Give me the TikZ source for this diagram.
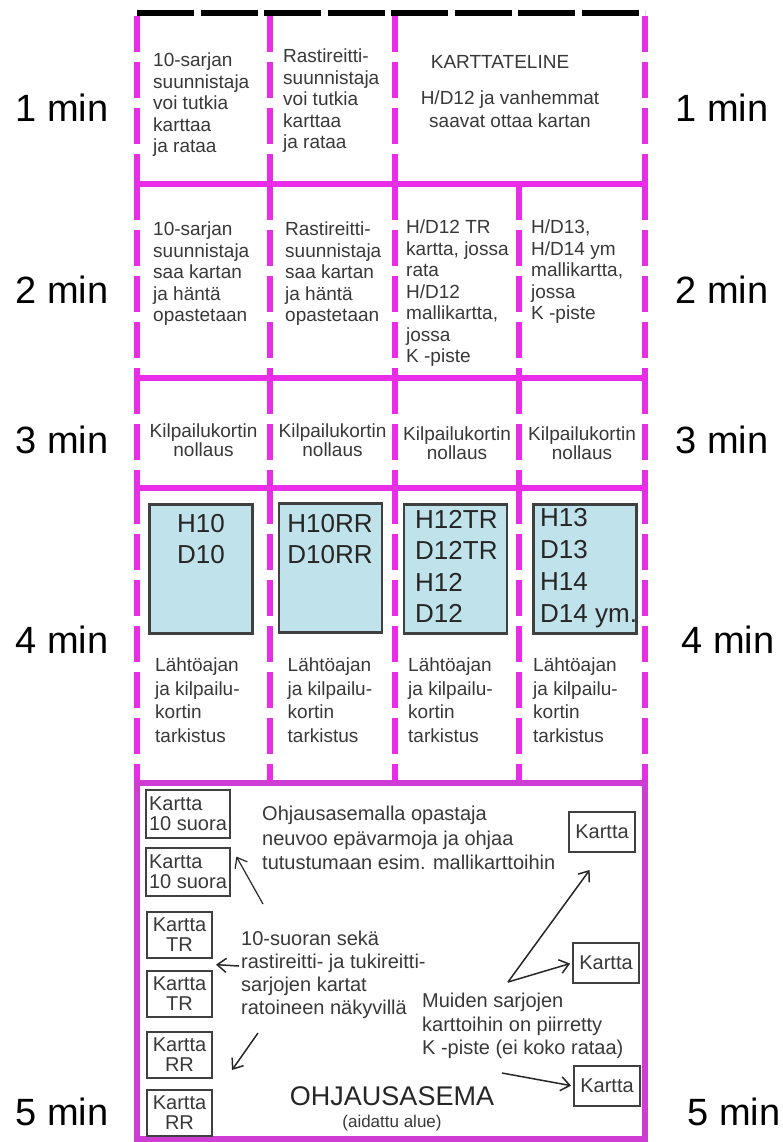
\documentclass[tikz,border=0pt]{standalone}
\usepackage{fontspec}
\setmainfont{Liberation Sans}
\usetikzlibrary{arrows.meta,calc}
\definecolor{pinkline}{RGB}{232,44,232}
\definecolor{frameline}{RGB}{206,60,212}
\definecolor{cardblue}{RGB}{192,226,234}

\begin{document}
\begin{tikzpicture}[
  x=1pt, y=-1pt,
  every node/.style={inner sep=0pt, text=black!78},
  cell/.style={anchor=north west, align=left, font=\fontsize{19}{21.5}\selectfont},
  checktext/.style={anchor=north west, align=left, font=\fontsize{19}{23.5}\selectfont},
  reset/.style={align=center, font=\fontsize{19}{19.5}\selectfont},
  minlabel/.style={font=\fontsize{38}{40}\selectfont, text=black},
  classbox/.style={rectangle, draw=black!75, line width=2.5pt, fill=cardblue, minimum width=103pt, minimum height=129pt},
  classtext/.style={anchor=north, align=center, font=\fontsize{26}{31.5}\selectfont, text=black!85},
  mapbox/.style={rectangle, draw=black!75, line width=2pt, align=center, font=\fontsize{20}{20}\selectfont, minimum width=65pt, minimum height=46pt},
  note/.style={anchor=north west, align=left, font=\fontsize{20}{23.5}\selectfont},
  sepline/.style={pinkline, line width=6pt},
  dashsep/.style={pinkline, line width=6pt, dash pattern=on 36pt off 10pt},
  pointer/.style={-{Straight Barb[length=9pt,width=14pt]}, line width=1.5pt, black!85},
]
\useasboundingbox (0,0) rectangle (783,1142);

% Grid: start line, rows and columns
\draw[black, line width=6pt, dash pattern=on 57pt off 6.5pt] (137,13) -- (645,13);
\foreach \xx in {137,270,395,645}
  \draw[dashsep] (\xx,16) -- (\xx,184);
\foreach \ya/\yb in {184/378, 378/488, 488/783}
  \foreach \xx in {137,270,395,519,645}
    \draw[dashsep] (\xx,\ya) -- (\xx,\yb);
\foreach \yy in {184,378,488}
  \draw[sepline] (134,\yy) -- (648,\yy);
\draw[frameline, line width=6pt] (137,783) -- (137,1139) -- (645,1139) -- (645,783) -- cycle;

% Time labels
\foreach \t/\yy/\xr in {1/108/722, 2/290/722, 3/440/722, 4/640/728, 5/1112/734} {
  \node[minlabel] (left\t) at (62,\yy) {\t\ min};
  \node[minlabel] (right\t) at (\xr,\yy) {\t\ min};
}

% Row 1: 1 min
\node[cell] (r1c1) at (153,53) {10-sarjan\\suunnistaja\\voi tutkia\\karttaa\\ja rataa};
\node[cell] (r1c2) at (283,49) {Rastireitti-\\suunnistaja\\voi tutkia\\karttaa\\ja rataa};
\node[reset] (stand) at (500,62) {KARTTATELINE};
\node[reset, font=\fontsize{19}{23.5}\selectfont] (standnote) at (510,109) {H/D12 ja vanhemmat\\saavat ottaa kartan};

% Row 2: 2 min
\node[cell] (r2c1) at (153,222) {10-sarjan\\suunnistaja\\saa kartan\\ja häntä\\opastetaan};
\node[cell] (r2c2) at (285,222) {Rastireitti-\\suunnistaja\\saa kartan\\ja häntä\\opastetaan};
\node[cell] (r2c3) at (406,220) {H/D12 TR\\kartta, jossa\\rata\\H/D12\\mallikartta,\\jossa\\K -piste};
\node[cell] (r2c4) at (531,220) {H/D13,\\H/D14 ym\\mallikartta,\\jossa\\K -piste};

% Row 3: 3 min
\node[reset] (r3c1) at (203.5,440) {Kilpailukortin\\nollaus};
\node[reset] (r3c2) at (332.5,440) {Kilpailukortin\\nollaus};
\node[reset] (r3c3) at (457,443) {Kilpailukortin\\nollaus};
\node[reset] (r3c4) at (582,443) {Kilpailukortin\\nollaus};

% Row 4: 4 min
\node[classbox] (b1) at (201,569) {};
\node[classbox] (b2) at (330.5,568) {};
\node[classbox] (b3) at (455.5,569) {};
\node[classbox] (b4) at (585,569) {};
\node[classtext] (b1t) at (201,514) {H10\\D10};
\node[classtext] (b2t) at (330,514) {H10RR\\D10RR};
\node[classtext, anchor=north west, align=left] (b3t) at (415,510) {H12TR\\D12TR\\H12\\D12};
\node[classtext, anchor=north west, align=left, font=\fontsize{26}{32}\selectfont] (b4t) at (540,508) {H13\\D13\\H14\\D14 ym.};
\node[checktext] (r4c1) at (155,658) {Lähtöajan\\ja kilpailu-\\kortin\\tarkistus};
\node[checktext] (r4c2) at (287.5,658) {Lähtöajan\\ja kilpailu-\\kortin\\tarkistus};
\node[checktext] (r4c3) at (408,658) {Lähtöajan\\ja kilpailu-\\kortin\\tarkistus};
\node[checktext] (r4c4) at (533,658) {Lähtöajan\\ja kilpailu-\\kortin\\tarkistus};

% Row 5: 5 min, ohjausasema
\node[mapbox, align=left, minimum width=84pt, minimum height=48pt] (k1) at (188,814) {Kartta\\10 suora};
\node[mapbox, align=left, minimum width=84pt, minimum height=48pt] (k2) at (188,872) {Kartta\\10 suora};
\node[mapbox] (tr1) at (179.5,935) {Kartta\\TR};
\node[mapbox] (tr2) at (179.5,994) {Kartta\\TR};
\node[mapbox] (rr1) at (179.5,1055) {Kartta\\RR};
\node[mapbox] (rr2) at (179.5,1113) {Kartta\\RR};
\node[mapbox, minimum width=66pt, minimum height=40pt] (kr1) at (602,832) {Kartta};
\node[mapbox, minimum width=66pt, minimum height=40pt] (kr2) at (606,963) {Kartta};
\node[mapbox, minimum width=66pt, minimum height=40pt] (kr3) at (607,1086) {Kartta};

\node[note, font=\fontsize{20}{24.5}\selectfont] (guide) at (262,806) {Ohjausasemalla opastaja\\neuvoo epävarmoja ja ohjaa\\tutustumaan esim. mallikarttoihin};
\node[note, font=\fontsize{20}{23}\selectfont] (shown) at (241,931) {10-suoran sekä\\rastireitti- ja tukireitti-\\sarjojen kartat\\ratoineen näkyvillä};
\node[note] (others) at (422,993) {Muiden sarjojen\\karttoihin on piirretty\\K -piste (ei koko rataa)};
\node[font=\fontsize{27}{30}\selectfont, text=black!85] (station) at (392,1096) {OHJAUSASEMA};
\node[font=\fontsize{17}{20}\selectfont] (fenced) at (392,1123) {(aidattu alue)};

% Arrows
\coordinate (up10) at (263,904);
\coordinate (leftTR) at (239,966);
\coordinate (downRR) at (258,1033);
\coordinate (aimRR) at (232,1070);
\coordinate (fork) at (508,982);
\coordinate (fromOthers) at (502,1073);
\draw[pointer, line width=1.2pt] (up10) -- (k2.north east) [shorten >=11pt];
\draw[pointer] (leftTR) -- ($(tr1.south east)!.5!(tr2.north east)$) [shorten >=3pt];
\draw[pointer] (downRR) -- (aimRR);
\draw[pointer] (fork) -- (kr1.south) [shorten >=21pt];
\draw[pointer] (fork) -- (kr2.west) [shorten >=2pt];
\draw[pointer] (fromOthers) -- (kr3.west) [shorten >=2pt];

\end{tikzpicture}
\end{document}
